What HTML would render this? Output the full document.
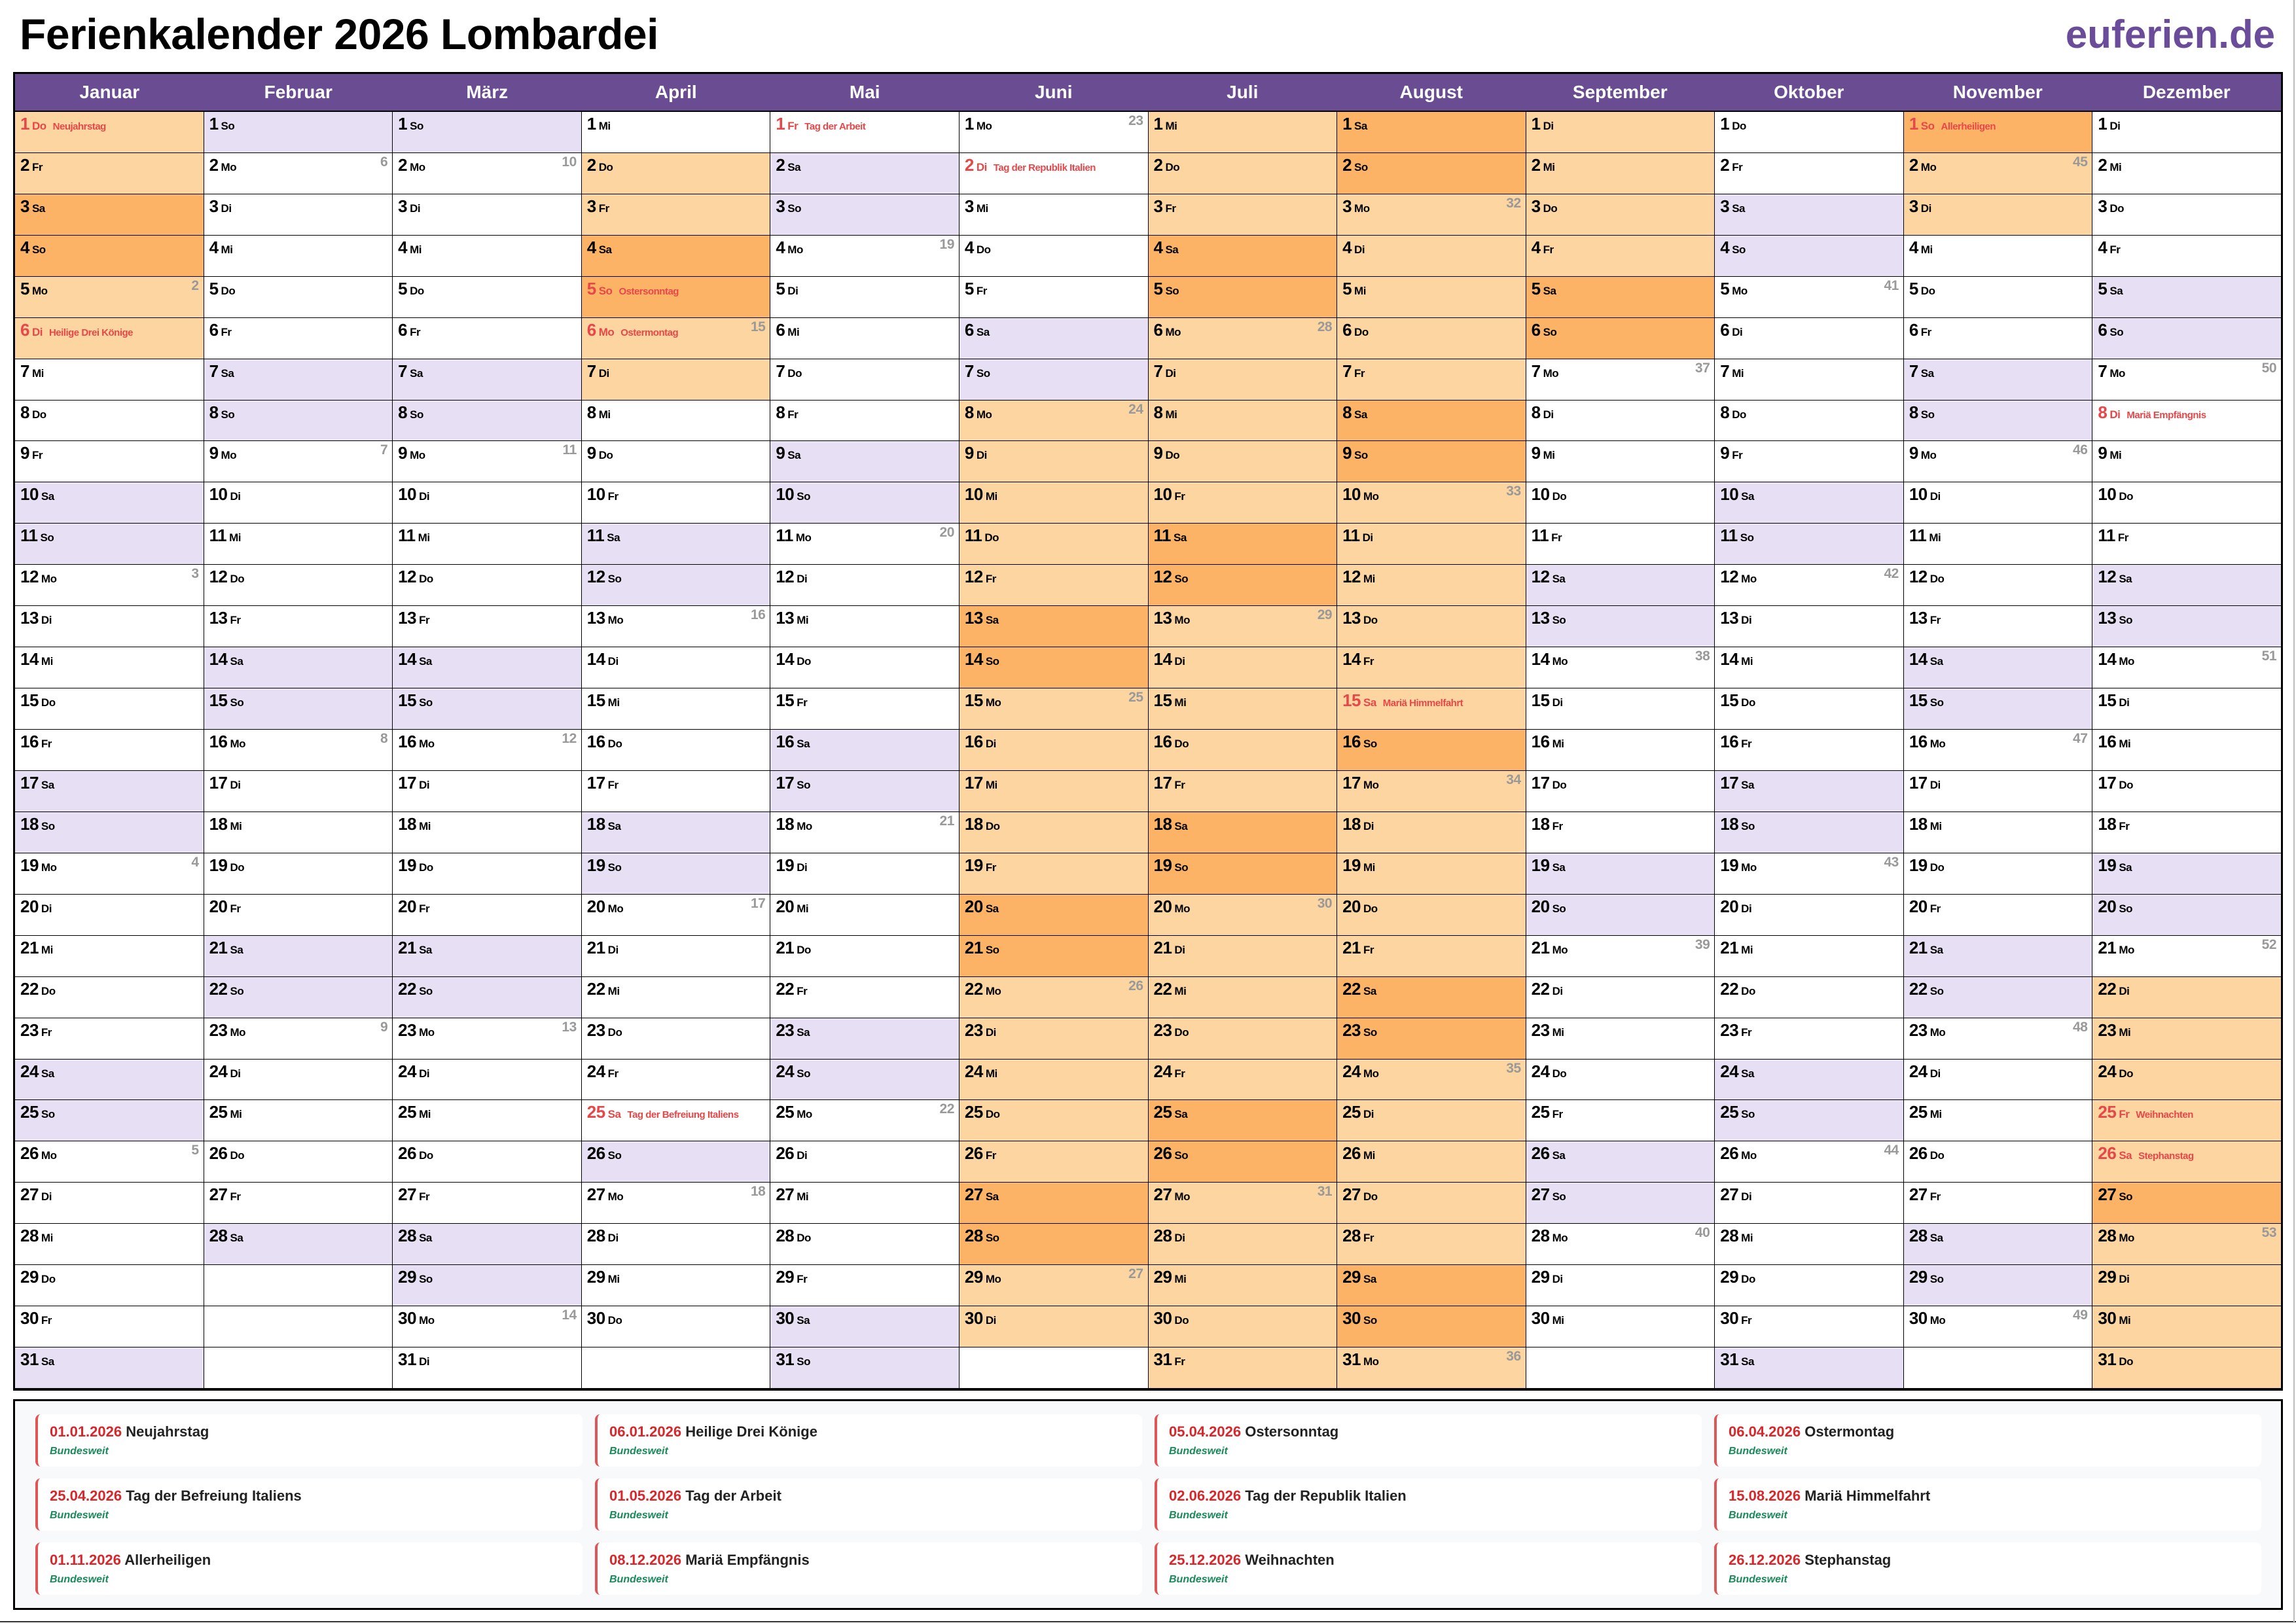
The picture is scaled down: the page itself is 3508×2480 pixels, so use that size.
<!DOCTYPE html>
<html><head><meta charset="utf-8"><style>
html,body{margin:0;padding:0}
body{width:3508px;height:2480px;position:relative;background:#fff;overflow:hidden;font-family:"Liberation Sans Narrow","Liberation Sans",sans-serif}
.ti{position:absolute;left:30px;top:14px;font:bold 66px "Liberation Sans",sans-serif;color:#000;letter-spacing:-0.5px}
.br{position:absolute;right:32px;top:18px;font:bold 60px "Liberation Sans",sans-serif;color:#6b4c9a}
.t{position:absolute;left:20px;top:110px;width:3468px;height:2015px;border:3px solid #000;box-sizing:border-box;background:#000}
.hd{display:grid;grid-template-columns:repeat(12,1fr);height:56px;background:#6a4c93}
.hd div{color:#fff;font:bold 28px "Liberation Sans",sans-serif;text-align:center;line-height:56px}
.bd{display:grid;grid-template-columns:repeat(12,1fr);grid-template-rows:repeat(31,1fr);grid-auto-flow:column;gap:1px;height:1950px;margin-top:2px}
p{margin:0;background:#fff;position:relative;padding:3px 0 0 8px;font:bold 26px "Liberation Sans Narrow","Liberation Sans",sans-serif;white-space:nowrap;overflow:hidden;color:#000;letter-spacing:-0.5px}
p b{font-size:17px;margin-left:4px}
p em{font-style:normal;font-size:15px;margin-left:10px}
p u{text-decoration:none;position:absolute;right:7px;top:2px;color:#999;font-size:21px}
.s{background:#e7dff3}.o{background:#fdd5a0}.d{background:#fdb366}.h{color:#e8474a}
.lg{position:absolute;left:20px;top:2138px;width:3468px;height:322px;border:3px solid #000;box-sizing:border-box;background:#f8f9fb}
.cs{position:absolute;left:31px;top:20px;display:grid;grid-template-columns:repeat(4,836px);column-gap:19px;row-gap:18px}
.c{height:80px;background:#fff;border-left:4px solid #e05555;border-radius:8px;box-sizing:border-box;padding:14px 0 0 18px}
.c .a{font:bold 22px "Liberation Sans Narrow","Liberation Sans",sans-serif;color:#222}
.c .a span{color:#d9262b}
.c .w{font:italic bold 16px "Liberation Sans Narrow","Liberation Sans",sans-serif;color:#1a8a5a;margin-top:8px}
.ln{position:absolute;left:0;top:2477px;width:3508px;height:2px;background:#333}
.rl{position:absolute;left:3504px;top:0;width:2px;height:2480px;background:#bbb}
</style></head><body>
<div class="ti">Ferienkalender 2026 Lombardei</div>
<div class="br">euferien.de</div>
<div class="t">
<div class="hd"><div>Januar</div><div>Februar</div><div>März</div><div>April</div><div>Mai</div><div>Juni</div><div>Juli</div><div>August</div><div>September</div><div>Oktober</div><div>November</div><div>Dezember</div></div>
<div class="bd">
<p class="o h">1<b>Do</b><em>Neujahrstag</em></p><p class=o>2<b>Fr</b></p><p class=d>3<b>Sa</b></p><p class=d>4<b>So</b></p><p class=o>5<b>Mo</b><u>2</u></p><p class="o h">6<b>Di</b><em>Heilige Drei Könige</em></p><p>7<b>Mi</b></p><p>8<b>Do</b></p><p>9<b>Fr</b></p><p class=s>10<b>Sa</b></p><p class=s>11<b>So</b></p><p>12<b>Mo</b><u>3</u></p><p>13<b>Di</b></p><p>14<b>Mi</b></p><p>15<b>Do</b></p><p>16<b>Fr</b></p><p class=s>17<b>Sa</b></p><p class=s>18<b>So</b></p><p>19<b>Mo</b><u>4</u></p><p>20<b>Di</b></p><p>21<b>Mi</b></p><p>22<b>Do</b></p><p>23<b>Fr</b></p><p class=s>24<b>Sa</b></p><p class=s>25<b>So</b></p><p>26<b>Mo</b><u>5</u></p><p>27<b>Di</b></p><p>28<b>Mi</b></p><p>29<b>Do</b></p><p>30<b>Fr</b></p><p class=s>31<b>Sa</b></p>
<p class=s>1<b>So</b></p><p>2<b>Mo</b><u>6</u></p><p>3<b>Di</b></p><p>4<b>Mi</b></p><p>5<b>Do</b></p><p>6<b>Fr</b></p><p class=s>7<b>Sa</b></p><p class=s>8<b>So</b></p><p>9<b>Mo</b><u>7</u></p><p>10<b>Di</b></p><p>11<b>Mi</b></p><p>12<b>Do</b></p><p>13<b>Fr</b></p><p class=s>14<b>Sa</b></p><p class=s>15<b>So</b></p><p>16<b>Mo</b><u>8</u></p><p>17<b>Di</b></p><p>18<b>Mi</b></p><p>19<b>Do</b></p><p>20<b>Fr</b></p><p class=s>21<b>Sa</b></p><p class=s>22<b>So</b></p><p>23<b>Mo</b><u>9</u></p><p>24<b>Di</b></p><p>25<b>Mi</b></p><p>26<b>Do</b></p><p>27<b>Fr</b></p><p class=s>28<b>Sa</b></p><p></p><p></p><p></p>
<p class=s>1<b>So</b></p><p>2<b>Mo</b><u>10</u></p><p>3<b>Di</b></p><p>4<b>Mi</b></p><p>5<b>Do</b></p><p>6<b>Fr</b></p><p class=s>7<b>Sa</b></p><p class=s>8<b>So</b></p><p>9<b>Mo</b><u>11</u></p><p>10<b>Di</b></p><p>11<b>Mi</b></p><p>12<b>Do</b></p><p>13<b>Fr</b></p><p class=s>14<b>Sa</b></p><p class=s>15<b>So</b></p><p>16<b>Mo</b><u>12</u></p><p>17<b>Di</b></p><p>18<b>Mi</b></p><p>19<b>Do</b></p><p>20<b>Fr</b></p><p class=s>21<b>Sa</b></p><p class=s>22<b>So</b></p><p>23<b>Mo</b><u>13</u></p><p>24<b>Di</b></p><p>25<b>Mi</b></p><p>26<b>Do</b></p><p>27<b>Fr</b></p><p class=s>28<b>Sa</b></p><p class=s>29<b>So</b></p><p>30<b>Mo</b><u>14</u></p><p>31<b>Di</b></p>
<p>1<b>Mi</b></p><p class=o>2<b>Do</b></p><p class=o>3<b>Fr</b></p><p class=d>4<b>Sa</b></p><p class="d h">5<b>So</b><em>Ostersonntag</em></p><p class="o h">6<b>Mo</b><em>Ostermontag</em><u>15</u></p><p class=o>7<b>Di</b></p><p>8<b>Mi</b></p><p>9<b>Do</b></p><p>10<b>Fr</b></p><p class=s>11<b>Sa</b></p><p class=s>12<b>So</b></p><p>13<b>Mo</b><u>16</u></p><p>14<b>Di</b></p><p>15<b>Mi</b></p><p>16<b>Do</b></p><p>17<b>Fr</b></p><p class=s>18<b>Sa</b></p><p class=s>19<b>So</b></p><p>20<b>Mo</b><u>17</u></p><p>21<b>Di</b></p><p>22<b>Mi</b></p><p>23<b>Do</b></p><p>24<b>Fr</b></p><p class=h>25<b>Sa</b><em>Tag der Befreiung Italiens</em></p><p class=s>26<b>So</b></p><p>27<b>Mo</b><u>18</u></p><p>28<b>Di</b></p><p>29<b>Mi</b></p><p>30<b>Do</b></p><p></p>
<p class=h>1<b>Fr</b><em>Tag der Arbeit</em></p><p class=s>2<b>Sa</b></p><p class=s>3<b>So</b></p><p>4<b>Mo</b><u>19</u></p><p>5<b>Di</b></p><p>6<b>Mi</b></p><p>7<b>Do</b></p><p>8<b>Fr</b></p><p class=s>9<b>Sa</b></p><p class=s>10<b>So</b></p><p>11<b>Mo</b><u>20</u></p><p>12<b>Di</b></p><p>13<b>Mi</b></p><p>14<b>Do</b></p><p>15<b>Fr</b></p><p class=s>16<b>Sa</b></p><p class=s>17<b>So</b></p><p>18<b>Mo</b><u>21</u></p><p>19<b>Di</b></p><p>20<b>Mi</b></p><p>21<b>Do</b></p><p>22<b>Fr</b></p><p class=s>23<b>Sa</b></p><p class=s>24<b>So</b></p><p>25<b>Mo</b><u>22</u></p><p>26<b>Di</b></p><p>27<b>Mi</b></p><p>28<b>Do</b></p><p>29<b>Fr</b></p><p class=s>30<b>Sa</b></p><p class=s>31<b>So</b></p>
<p>1<b>Mo</b><u>23</u></p><p class=h>2<b>Di</b><em>Tag der Republik Italien</em></p><p>3<b>Mi</b></p><p>4<b>Do</b></p><p>5<b>Fr</b></p><p class=s>6<b>Sa</b></p><p class=s>7<b>So</b></p><p class=o>8<b>Mo</b><u>24</u></p><p class=o>9<b>Di</b></p><p class=o>10<b>Mi</b></p><p class=o>11<b>Do</b></p><p class=o>12<b>Fr</b></p><p class=d>13<b>Sa</b></p><p class=d>14<b>So</b></p><p class=o>15<b>Mo</b><u>25</u></p><p class=o>16<b>Di</b></p><p class=o>17<b>Mi</b></p><p class=o>18<b>Do</b></p><p class=o>19<b>Fr</b></p><p class=d>20<b>Sa</b></p><p class=d>21<b>So</b></p><p class=o>22<b>Mo</b><u>26</u></p><p class=o>23<b>Di</b></p><p class=o>24<b>Mi</b></p><p class=o>25<b>Do</b></p><p class=o>26<b>Fr</b></p><p class=d>27<b>Sa</b></p><p class=d>28<b>So</b></p><p class=o>29<b>Mo</b><u>27</u></p><p class=o>30<b>Di</b></p><p></p>
<p class=o>1<b>Mi</b></p><p class=o>2<b>Do</b></p><p class=o>3<b>Fr</b></p><p class=d>4<b>Sa</b></p><p class=d>5<b>So</b></p><p class=o>6<b>Mo</b><u>28</u></p><p class=o>7<b>Di</b></p><p class=o>8<b>Mi</b></p><p class=o>9<b>Do</b></p><p class=o>10<b>Fr</b></p><p class=d>11<b>Sa</b></p><p class=d>12<b>So</b></p><p class=o>13<b>Mo</b><u>29</u></p><p class=o>14<b>Di</b></p><p class=o>15<b>Mi</b></p><p class=o>16<b>Do</b></p><p class=o>17<b>Fr</b></p><p class=d>18<b>Sa</b></p><p class=d>19<b>So</b></p><p class=o>20<b>Mo</b><u>30</u></p><p class=o>21<b>Di</b></p><p class=o>22<b>Mi</b></p><p class=o>23<b>Do</b></p><p class=o>24<b>Fr</b></p><p class=d>25<b>Sa</b></p><p class=d>26<b>So</b></p><p class=o>27<b>Mo</b><u>31</u></p><p class=o>28<b>Di</b></p><p class=o>29<b>Mi</b></p><p class=o>30<b>Do</b></p><p class=o>31<b>Fr</b></p>
<p class=d>1<b>Sa</b></p><p class=d>2<b>So</b></p><p class=o>3<b>Mo</b><u>32</u></p><p class=o>4<b>Di</b></p><p class=o>5<b>Mi</b></p><p class=o>6<b>Do</b></p><p class=o>7<b>Fr</b></p><p class=d>8<b>Sa</b></p><p class=d>9<b>So</b></p><p class=o>10<b>Mo</b><u>33</u></p><p class=o>11<b>Di</b></p><p class=o>12<b>Mi</b></p><p class=o>13<b>Do</b></p><p class=o>14<b>Fr</b></p><p class="o h">15<b>Sa</b><em>Mariä Himmelfahrt</em></p><p class=d>16<b>So</b></p><p class=o>17<b>Mo</b><u>34</u></p><p class=o>18<b>Di</b></p><p class=o>19<b>Mi</b></p><p class=o>20<b>Do</b></p><p class=o>21<b>Fr</b></p><p class=d>22<b>Sa</b></p><p class=d>23<b>So</b></p><p class=o>24<b>Mo</b><u>35</u></p><p class=o>25<b>Di</b></p><p class=o>26<b>Mi</b></p><p class=o>27<b>Do</b></p><p class=o>28<b>Fr</b></p><p class=d>29<b>Sa</b></p><p class=d>30<b>So</b></p><p class=o>31<b>Mo</b><u>36</u></p>
<p class=o>1<b>Di</b></p><p class=o>2<b>Mi</b></p><p class=o>3<b>Do</b></p><p class=o>4<b>Fr</b></p><p class=d>5<b>Sa</b></p><p class=d>6<b>So</b></p><p>7<b>Mo</b><u>37</u></p><p>8<b>Di</b></p><p>9<b>Mi</b></p><p>10<b>Do</b></p><p>11<b>Fr</b></p><p class=s>12<b>Sa</b></p><p class=s>13<b>So</b></p><p>14<b>Mo</b><u>38</u></p><p>15<b>Di</b></p><p>16<b>Mi</b></p><p>17<b>Do</b></p><p>18<b>Fr</b></p><p class=s>19<b>Sa</b></p><p class=s>20<b>So</b></p><p>21<b>Mo</b><u>39</u></p><p>22<b>Di</b></p><p>23<b>Mi</b></p><p>24<b>Do</b></p><p>25<b>Fr</b></p><p class=s>26<b>Sa</b></p><p class=s>27<b>So</b></p><p>28<b>Mo</b><u>40</u></p><p>29<b>Di</b></p><p>30<b>Mi</b></p><p></p>
<p>1<b>Do</b></p><p>2<b>Fr</b></p><p class=s>3<b>Sa</b></p><p class=s>4<b>So</b></p><p>5<b>Mo</b><u>41</u></p><p>6<b>Di</b></p><p>7<b>Mi</b></p><p>8<b>Do</b></p><p>9<b>Fr</b></p><p class=s>10<b>Sa</b></p><p class=s>11<b>So</b></p><p>12<b>Mo</b><u>42</u></p><p>13<b>Di</b></p><p>14<b>Mi</b></p><p>15<b>Do</b></p><p>16<b>Fr</b></p><p class=s>17<b>Sa</b></p><p class=s>18<b>So</b></p><p>19<b>Mo</b><u>43</u></p><p>20<b>Di</b></p><p>21<b>Mi</b></p><p>22<b>Do</b></p><p>23<b>Fr</b></p><p class=s>24<b>Sa</b></p><p class=s>25<b>So</b></p><p>26<b>Mo</b><u>44</u></p><p>27<b>Di</b></p><p>28<b>Mi</b></p><p>29<b>Do</b></p><p>30<b>Fr</b></p><p class=s>31<b>Sa</b></p>
<p class="d h">1<b>So</b><em>Allerheiligen</em></p><p class=o>2<b>Mo</b><u>45</u></p><p class=o>3<b>Di</b></p><p>4<b>Mi</b></p><p>5<b>Do</b></p><p>6<b>Fr</b></p><p class=s>7<b>Sa</b></p><p class=s>8<b>So</b></p><p>9<b>Mo</b><u>46</u></p><p>10<b>Di</b></p><p>11<b>Mi</b></p><p>12<b>Do</b></p><p>13<b>Fr</b></p><p class=s>14<b>Sa</b></p><p class=s>15<b>So</b></p><p>16<b>Mo</b><u>47</u></p><p>17<b>Di</b></p><p>18<b>Mi</b></p><p>19<b>Do</b></p><p>20<b>Fr</b></p><p class=s>21<b>Sa</b></p><p class=s>22<b>So</b></p><p>23<b>Mo</b><u>48</u></p><p>24<b>Di</b></p><p>25<b>Mi</b></p><p>26<b>Do</b></p><p>27<b>Fr</b></p><p class=s>28<b>Sa</b></p><p class=s>29<b>So</b></p><p>30<b>Mo</b><u>49</u></p><p></p>
<p>1<b>Di</b></p><p>2<b>Mi</b></p><p>3<b>Do</b></p><p>4<b>Fr</b></p><p class=s>5<b>Sa</b></p><p class=s>6<b>So</b></p><p>7<b>Mo</b><u>50</u></p><p class=h>8<b>Di</b><em>Mariä Empfängnis</em></p><p>9<b>Mi</b></p><p>10<b>Do</b></p><p>11<b>Fr</b></p><p class=s>12<b>Sa</b></p><p class=s>13<b>So</b></p><p>14<b>Mo</b><u>51</u></p><p>15<b>Di</b></p><p>16<b>Mi</b></p><p>17<b>Do</b></p><p>18<b>Fr</b></p><p class=s>19<b>Sa</b></p><p class=s>20<b>So</b></p><p>21<b>Mo</b><u>52</u></p><p class=o>22<b>Di</b></p><p class=o>23<b>Mi</b></p><p class=o>24<b>Do</b></p><p class="o h">25<b>Fr</b><em>Weihnachten</em></p><p class="o h">26<b>Sa</b><em>Stephanstag</em></p><p class=d>27<b>So</b></p><p class=o>28<b>Mo</b><u>53</u></p><p class=o>29<b>Di</b></p><p class=o>30<b>Mi</b></p><p class=o>31<b>Do</b></p>
</div></div>
<div class="lg"><div class="cs">
<div class="c"><div class="a"><span>01.01.2026</span> Neujahrstag</div><div class="w">Bundesweit</div></div>
<div class="c"><div class="a"><span>06.01.2026</span> Heilige Drei Könige</div><div class="w">Bundesweit</div></div>
<div class="c"><div class="a"><span>05.04.2026</span> Ostersonntag</div><div class="w">Bundesweit</div></div>
<div class="c"><div class="a"><span>06.04.2026</span> Ostermontag</div><div class="w">Bundesweit</div></div>
<div class="c"><div class="a"><span>25.04.2026</span> Tag der Befreiung Italiens</div><div class="w">Bundesweit</div></div>
<div class="c"><div class="a"><span>01.05.2026</span> Tag der Arbeit</div><div class="w">Bundesweit</div></div>
<div class="c"><div class="a"><span>02.06.2026</span> Tag der Republik Italien</div><div class="w">Bundesweit</div></div>
<div class="c"><div class="a"><span>15.08.2026</span> Mariä Himmelfahrt</div><div class="w">Bundesweit</div></div>
<div class="c"><div class="a"><span>01.11.2026</span> Allerheiligen</div><div class="w">Bundesweit</div></div>
<div class="c"><div class="a"><span>08.12.2026</span> Mariä Empfängnis</div><div class="w">Bundesweit</div></div>
<div class="c"><div class="a"><span>25.12.2026</span> Weihnachten</div><div class="w">Bundesweit</div></div>
<div class="c"><div class="a"><span>26.12.2026</span> Stephanstag</div><div class="w">Bundesweit</div></div>
</div></div>
<div class="ln"></div><div class="rl"></div>
</body></html>
